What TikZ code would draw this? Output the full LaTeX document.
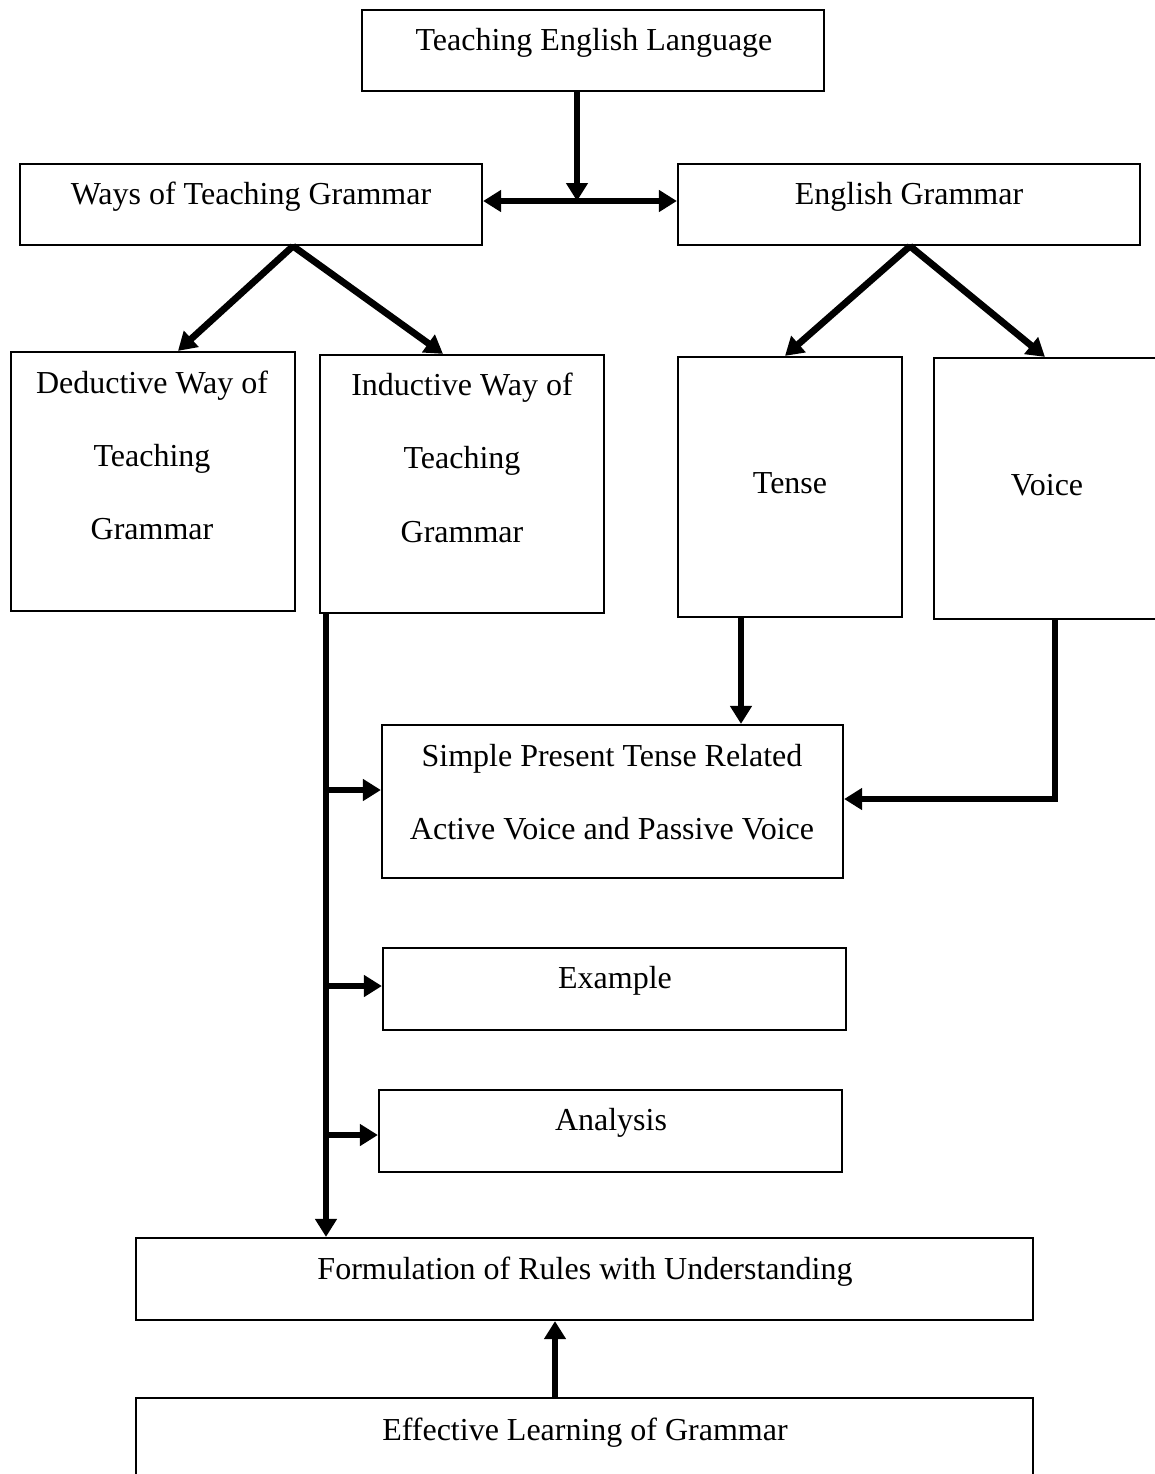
\documentclass[tikz,border=0pt]{standalone}
\usepackage{fontspec}
\setmainfont{Liberation Serif}
\usetikzlibrary{arrows.meta,fit}
\tikzset{
  box/.style={draw=black, line width=1.1pt, inner sep=0pt, fill=white},
  txt/.style={anchor=base, inner sep=0pt, font=\fontsize{16}{19}\selectfont},
  arr/.style={line width=3.4pt, -{Triangle[length=9pt,width=10.5pt]}},
  darr/.style={line width=3.4pt, {Triangle[length=9pt,width=10.5pt]}-{Triangle[length=9pt,width=10.5pt]}}
}
\begin{document}
\begin{tikzpicture}[x=0.5pt,y=-0.5pt]
\useasboundingbox (0,0) rectangle (1155,1474);
\clip (0,0) rectangle (1155,1474);
\fill[white] (0,0) rectangle (1155,1474);

% boxes
\node[box, fit={(362,10)(824,91)}] (top) {};
\node[box, fit={(20,164)(482,245)}] (ways) {};
\node[box, fit={(678,164)(1140,245)}] (eng) {};
\node[box, fit={(11,352)(295,611)}] (ded) {};
\node[box, fit={(320,355)(604,613)}] (ind) {};
\node[box, fit={(678,357)(902,617)}] (tense) {};
\node[box, fit={(934,358)(1166,619)}] (voice) {};
\node[box, fit={(382,725)(843,878)}] (spt) {};
\node[box, fit={(383,948)(846,1030)}] (ex) {};
\node[box, fit={(379,1090)(842,1172)}] (an) {};
\node[box, fit={(136,1238)(1033,1320)}] (form) {};
\node[box, fit={(136,1398)(1033,1500)}] (eff) {};

% texts
\node[txt] (ttop) at (594,50) {Teaching English Language};
\node[txt] (tways) at (251,204) {Ways of Teaching Grammar};
\node[txt] (teng) at (909,204) {English Grammar};
\node[txt] (tded1) at (152,393) {Deductive Way of};
\node[txt] (tded2) at (152,466) {Teaching};
\node[txt] (tded3) at (152,539) {Grammar};
\node[txt] (tind1) at (462,395) {Inductive Way of};
\node[txt] (tind2) at (462,468) {Teaching};
\node[txt] (tind3) at (462,542) {Grammar};
\node[txt] (ttense) at (790,493) {Tense};
\node[txt] (tvoice) at (1047,495) {Voice};
\node[txt] (tspt1) at (612,766) {Simple Present Tense Related};
\node[txt] (tspt2) at (612,839) {Active Voice and Passive Voice};
\node[txt] (tex) at (615,988) {Example};
\node[txt] (tan) at (611,1130) {Analysis};
\node[txt] (tform) at (585,1279) {Formulation of Rules with Understanding};
\node[txt] (teff) at (585,1440) {Effective Learning of Grammar};

% helper coordinates
\coordinate (cx) at (577,0);
\coordinate (hy) at (0,201);
\coordinate (wx) at (293,0);
\coordinate (dx) at (178,0);
\coordinate (ix) at (443,0);
\coordinate (ex1) at (910,0);
\coordinate (tx) at (785,0);
\coordinate (vxx) at (1045,0);
\coordinate (tdx) at (741,0);
\coordinate (vc) at (1055,799);
\coordinate (sx) at (326,0);
\coordinate (b1) at (326,790);
\coordinate (b2) at (326,986);
\coordinate (b3) at (326,1135);
\coordinate (ux) at (555,0);

% connectors
\draw[arr] (top.south -| cx) -- (cx |- hy);
\draw[darr] (ways.east |- hy) -- (eng.west |- hy);
\draw[arr] (ways.south -| wx) -- (ded.north -| dx);
\draw[arr] (ways.south -| wx) -- (ind.north -| ix);
\draw[arr] (eng.south -| ex1) -- (tense.north -| tx);
\draw[arr] (eng.south -| ex1) -- (voice.north -| vxx);
\draw[arr] (tense.south -| tdx) -- (spt.north -| tdx);
\draw[arr] (voice.south -| vc) -- (vc) -- (vc -| spt.east);
\draw[arr] (ind.south -| sx) -- (form.north -| sx);
\draw[arr] (b1) -- (b1 -| spt.west);
\draw[arr] (b2) -- (b2 -| ex.west);
\draw[arr] (b3) -- (b3 -| an.west);
\draw[arr] (eff.north -| ux) -- (form.south -| ux);
\end{tikzpicture}
\end{document}
